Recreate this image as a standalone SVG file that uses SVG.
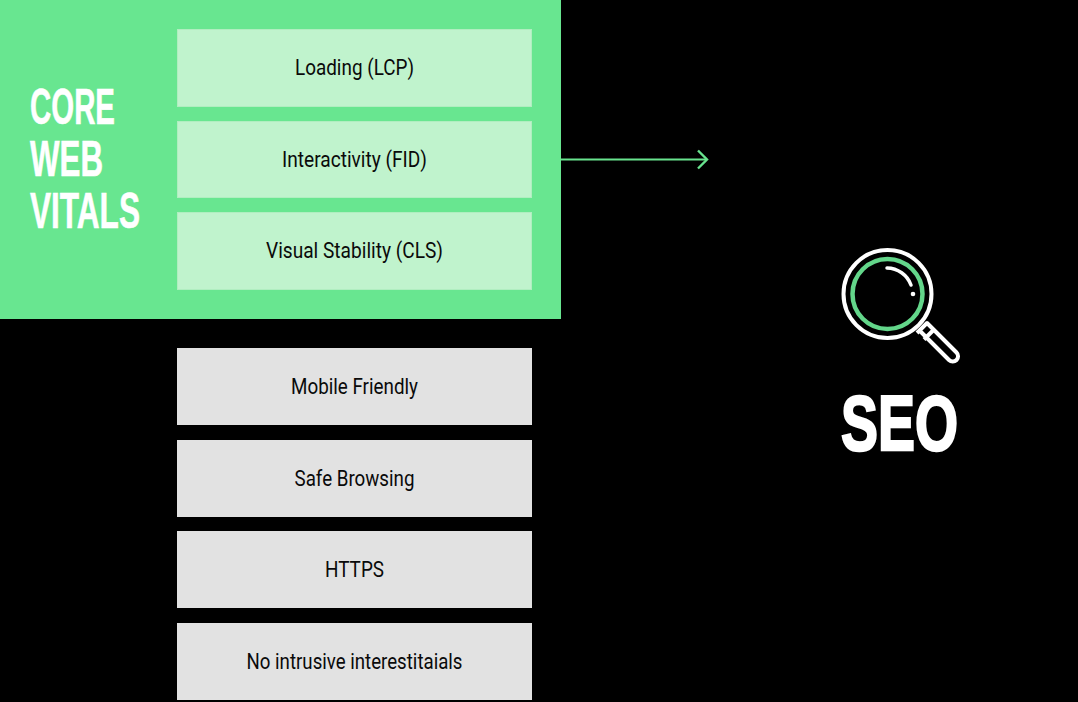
<svg xmlns="http://www.w3.org/2000/svg" width="1078" height="702" viewBox="0 0 1078 702">
<defs><style>
.g{fill:#c0f3cd;stroke:#b0eec0;stroke-width:1}
.w{fill:#e2e2e2}
.t{font-family:Roboto,"Liberation Sans",sans-serif;font-size:22px;fill:#0a0a0a;text-anchor:middle}
.h{font-family:"Liberation Sans",Roboto,sans-serif;font-weight:700;fill:#fff}
</style>
<marker id="a" markerUnits="userSpaceOnUse" markerWidth="14" markerHeight="24" refX="11" refY="11" orient="auto" viewBox="0 0 14 22"><path d="M2 2L11 11L2 20" fill="none" stroke="#68e38e" stroke-width="2.4"/></marker>
</defs>
<rect width="1078" height="702" fill="#000"/>
<g id="core-web-vitals">
<rect width="561" height="319" fill="#68e690"/>
<g class="h" font-size="50" stroke="#fff" stroke-width=".6">
<text x="30" y="124" textLength="85" lengthAdjust="spacingAndGlyphs">CORE</text>
<text x="30" y="176" textLength="73" lengthAdjust="spacingAndGlyphs">WEB</text>
<text x="30" y="228" textLength="110" lengthAdjust="spacingAndGlyphs">VITALS</text>
</g></g>
<g id="lcp"><rect class="g" x="177.500" y="29.500" width="354" height="77"/><text class="t" x="354.500" y="75" textLength="119" lengthAdjust="spacingAndGlyphs">Loading (LCP)</text></g>
<g id="fid"><rect class="g" x="177.500" y="121.500" width="354" height="76"/><text class="t" x="354.500" y="167" textLength="145" lengthAdjust="spacingAndGlyphs">Interactivity (FID)</text></g>
<g id="cls"><rect class="g" x="177.500" y="212.500" width="354" height="77"/><text class="t" x="354.500" y="258" textLength="177" lengthAdjust="spacingAndGlyphs">Visual Stability (CLS)</text></g>
<g id="mobile"><rect class="w" x="177" y="348" width="355" height="77"/><text class="t" x="354.500" y="394" textLength="127" lengthAdjust="spacingAndGlyphs">Mobile Friendly</text></g>
<g id="safe"><rect class="w" x="177" y="440" width="355" height="77"/><text class="t" x="354.500" y="486" textLength="120" lengthAdjust="spacingAndGlyphs">Safe Browsing</text></g>
<g id="https"><rect class="w" x="177" y="531" width="355" height="77"/><text class="t" x="354.500" y="577" textLength="59" lengthAdjust="spacingAndGlyphs">HTTPS</text></g>
<g id="interstitials"><rect class="w" x="177" y="623" width="355" height="77"/><text class="t" x="354.500" y="669" textLength="216" lengthAdjust="spacingAndGlyphs">No intrusive interestitaials</text></g>
<g id="connectors"><line x1="561" y1="159.500" x2="707" y2="159.500" stroke="#68e38e" stroke-width="2.2" marker-end="url(#a)"/></g>
<g id="seo">
<circle cx="887.500" cy="294" r="44" fill="none" stroke="#fff" stroke-width="4"/>
<circle cx="887.500" cy="294" r="35" fill="none" stroke="#63d68a" stroke-width="4.500"/>
<path d="M887 268A26 26 0 0 1 911 285" fill="none" stroke="#fff" stroke-width="3.500" stroke-linecap="round"/>
<circle cx="913" cy="294" r="2.300" fill="#fff"/>
<path d="M917 333L927 323L956.500 352.500A5.200 5.200 0 0 1 949 360L919 330M924 339.500L933 330.500" fill="none" stroke="#fff" stroke-width="4" stroke-linejoin="round"/>
<text class="h" x="841" y="450" font-size="78" textLength="117" lengthAdjust="spacingAndGlyphs" stroke="#fff" stroke-width="2.500">SEO</text>
</g>
</svg>
